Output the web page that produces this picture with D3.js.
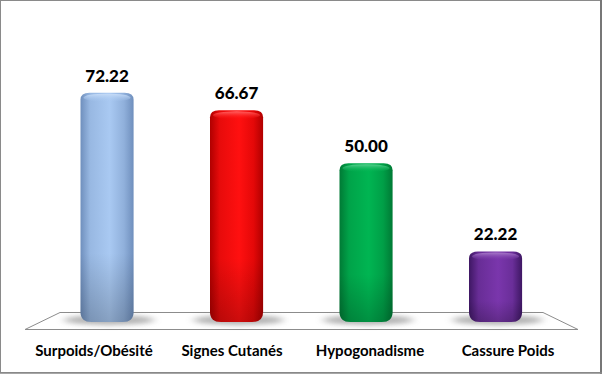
<!DOCTYPE html>
<html><head><meta charset="utf-8">
<script src="https://cdn.jsdelivr.net/npm/d3@7"></script>
<style>
html,body{margin:0;padding:0;background:#fff;}
svg{display:block;}
text{font-family:Lato,"Open Sans",sans-serif;font-weight:bold;fill:#000;}
</style></head>
<body>
<svg id="c" width="602" height="374"></svg>
<script>
const categories = ["Surpoids/Obésité","Signes Cutanés","Hypogonadisme","Cassure Poids"];
const values = [72.22, 66.67, 50.00, 22.22];
const valueLabels = ["72.22","66.67","50.00","22.22"];
const colors = [
  {edge:"#6f8fbd", mid:"#a9c9f2", dark:"#7796c4"},
  {edge:"#b00000", mid:"#ff1010", dark:"#c80000"},
  {edge:"#007a35", mid:"#00b552", dark:"#00883c"},
  {edge:"#3e1763", mid:"#7a36ac", dark:"#5a2585"}
];

const svg = d3.select("#c");
const W = 602, H = 374;
const defs = svg.append("defs");

// frame
svg.append("rect").attr("x",0.5).attr("y",0.5).attr("width",W-2).attr("height",H-2)
  .attr("fill","#fff").attr("stroke","#8a8a8a").attr("stroke-width",1);
svg.append("line").attr("x1",W-1).attr("x2",W-1).attr("y1",0).attr("y2",H).attr("stroke","#777").attr("stroke-width",2);
svg.append("line").attr("x1",0).attr("x2",W).attr("y1",H-1).attr("y2",H-1).attr("stroke","#888").attr("stroke-width",1.5);

const y = d3.scaleLinear().domain([0, 80]).range([322, 68]);
const xBar = d3.scaleBand().domain(categories).range([42.3, 560.3]).paddingInner(0.59).paddingOuter(0.295);
const xLab = d3.scaleBand().domain(categories).range([25, 577]);

// floor
const backY = 312.5, frontY = 329.5;
svg.append("path")
  .attr("d", `M60,${backY} L543,${backY} L578,${frontY} L25,${frontY} Z`)
  .attr("fill","#fff").attr("stroke","#8c8c8c").attr("stroke-width",1);

// shadow
const blur = defs.append("filter").attr("id","blur").attr("x","-50%").attr("y","-100%").attr("width","200%").attr("height","300%");
blur.append("feGaussianBlur").attr("stdDeviation","4 2.5");

svg.append("g").selectAll("ellipse").data(categories).join("ellipse")
  .attr("cx", d => xBar(d) + xBar.bandwidth()/2 + 2)
  .attr("cy", 320)
  .attr("rx", xBar.bandwidth()*0.85)
  .attr("ry", 5)
  .attr("fill","#9a9a9a").attr("opacity",0.75)
  .attr("filter","url(#blur)");

// gradients
colors.forEach((c,i) => {
  const g = defs.append("linearGradient").attr("id","g"+i).attr("x1","0").attr("x2","1").attr("y1","0").attr("y2","0");
  g.append("stop").attr("offset","0%").attr("stop-color",c.edge);
  g.append("stop").attr("offset","18%").attr("stop-color",d3.interpolateRgb(c.edge,c.mid)(0.7));
  g.append("stop").attr("offset","55%").attr("stop-color",c.mid);
  g.append("stop").attr("offset","82%").attr("stop-color",d3.interpolateRgb(c.mid,c.dark)(0.5));
  g.append("stop").attr("offset","100%").attr("stop-color",c.edge);
  const cap = defs.append("linearGradient").attr("id","cap"+i).attr("x1","0").attr("x2","0").attr("y1","0").attr("y2","1");
  cap.append("stop").attr("offset","0%").attr("stop-color",d3.interpolateRgb(c.mid,"#fff")(0.35));
  cap.append("stop").attr("offset","100%").attr("stop-color",c.mid).attr("stop-opacity",0);
  const vs = defs.append("linearGradient").attr("id","vs"+i).attr("x1","0").attr("x2","0").attr("y1","0").attr("y2","1");
  vs.append("stop").attr("offset","0%").attr("stop-color","#000").attr("stop-opacity",0);
  vs.append("stop").attr("offset","70%").attr("stop-color","#000").attr("stop-opacity",0);
  vs.append("stop").attr("offset","100%").attr("stop-color","#000").attr("stop-opacity",0.2);
});

function barPath(x0, w, top, bot) {
  const rt = 9, rb = 11, ry = 7, ryb = 10;
  return `M${x0},${top+ry} Q${x0},${top} ${x0+rt},${top} L${x0+w-rt},${top} Q${x0+w},${top} ${x0+w},${top+ry}
    L${x0+w},${bot-ryb} Q${x0+w},${bot} ${x0+w-rb},${bot} L${x0+rb},${bot} Q${x0},${bot} ${x0},${bot-ryb} Z`;
}

const bars = svg.append("g").selectAll("g").data(categories).join("g");
bars.append("path")
  .attr("d", (d,i) => barPath(xBar(d), xBar.bandwidth(), y(values[i]), y(0)))
  .attr("fill", (d,i) => `url(#g${i})`);
bars.append("path")
  .attr("d", (d,i) => barPath(xBar(d), xBar.bandwidth(), y(values[i]), y(0)))
  .attr("fill", (d,i) => `url(#vs${i})`);
bars.append("ellipse")
  .attr("cx", d => xBar(d) + xBar.bandwidth()/2)
  .attr("cy", (d,i) => y(values[i]) + 5)
  .attr("rx", xBar.bandwidth()/2 - 3)
  .attr("ry", 4)
  .attr("fill", (d,i) => `url(#cap${i})`);

// value labels
svg.append("g").selectAll("text").data(categories).join("text")
  .attr("x", d => xBar(d) + xBar.bandwidth()/2)
  .attr("y", (d,i) => y(values[i]) - 11)
  .attr("text-anchor","middle")
  .attr("font-size","17px")
  .style("font-weight","900")
  .text((d,i) => valueLabels[i]);

// category labels
svg.append("g").selectAll("text").data(categories).join("text")
  .attr("x", d => xLab(d) + xLab.bandwidth()/2)
  .attr("y", 355.5)
  .attr("text-anchor","middle")
  .attr("font-size","15px")
  .text(d => d);
</script>
</body></html>
